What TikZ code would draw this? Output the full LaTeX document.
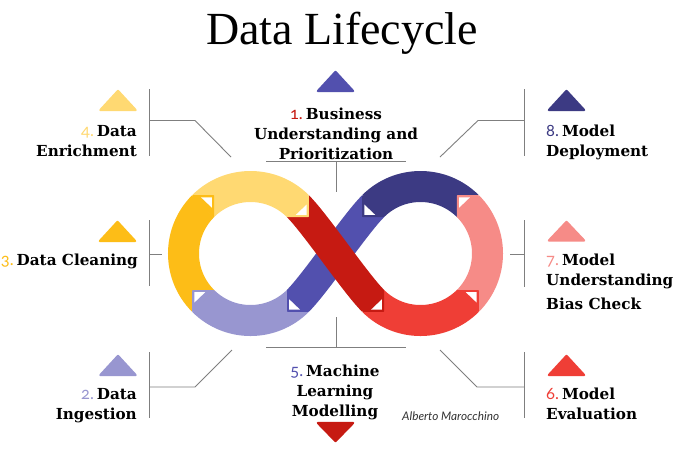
\documentclass[tikz,border=0pt]{standalone}
\usepackage{fontspec}
\setmainfont{DejaVu Serif}
\newfontfamily\titlefont{Liberation Serif}
\newfontfamily\numfont[Numbers=OldStyle]{Lato}
\newfontfamily\authorfont{Lato}
\definecolor{cLY}{HTML}{FFD972}
\definecolor{cOR}{HTML}{FDBD17}
\definecolor{cLA}{HTML}{9896D0}
\definecolor{cBL}{HTML}{5250AE}
\definecolor{cDR}{HTML}{C61A12}
\definecolor{cRE}{HTML}{EF3E36}
\definecolor{cSA}{HTML}{F68B87}
\definecolor{cNA}{HTML}{3C3A83}
\definecolor{cLN}{HTML}{7F7F7F}
\newcommand{\nm}[2]{{\fontsize{16.5}{20}\numfont\mdseries\color{#1}#2}\hspace{3pt}}
\newcommand{\tabm}[5]{%
  \filldraw[#1,line width=1.2pt,line join=round] ({#2+#4*0.6},{#3+#5*0.6}) -- ({#2+#4*21.3},{#3+#5*0.6}) -- ({#2+#4*0.6},{#3+#5*21.3}) -- cycle;
  \fill[white] ({#2+#4*2.2},{#3+#5*2.2}) -- ({#2+#4*13},{#3+#5*2.2}) -- ({#2+#4*2.2},{#3+#5*12.5}) -- cycle;}
\tikzset{
  x=1pt,y=-1pt,
  ring/.style={line width=31pt,line cap=butt},
  leader/.style={draw=cLN,line width=0.9pt},
  tri/.style={line width=2.4pt,line join=round},
  lab/.style={font=\fontsize{15.2}{20}\selectfont\bfseries,inner sep=0pt,text=black},
}
\newcommand{\tria}[4]{\filldraw[tri,#1] ({#2-17.5},{#4}) -- (#2,{#3}) -- ({#2+17.5},{#4}) -- cycle;}
\begin{document}
\begin{tikzpicture}
\useasboundingbox (0,0) rectangle (680,467);
\fill[white] (0,0) rectangle (680,467);
% title
\node[inner sep=0pt,font=\fontsize{46}{50}\titlefont] (title) at (342,33) {Data Lifecycle};
% rings
\draw[ring,cLA] (250.5,253.5) ++(45:67) arc[start angle=45,end angle=135,radius=67];
\draw[ring,cOR] (250.5,253.5) ++(135:67) arc[start angle=135,end angle=225,radius=67];
\draw[ring,cLY] (250.5,253.5) ++(225:67) arc[start angle=225,end angle=315,radius=67];
\draw[ring,cNA] (420.5,253.5) ++(225:67) arc[start angle=225,end angle=315,radius=67];
\draw[ring,cSA] (420.5,253.5) ++(315:67) arc[start angle=315,end angle=405,radius=67];
\draw[ring,cRE] (420.5,253.5) ++(45:67) arc[start angle=45,end angle=135,radius=67];
% crossing bands
\draw[ring,cBL] (297.9,300.8) .. controls (315,284) and (356,223) .. (373.1,206.2);
\draw[ring,cDR] (297.9,206.2) .. controls (315,223) and (356,284) .. (373.1,300.8);
% tabs
\tabm{cOR}{214.1}{195.2}{-1}{1}
\tabm{cLY}{308.8}{217.1}{-1}{-1}
\tabm{cLA}{192.2}{290}{1}{1}
\tabm{cBL}{287}{311.8}{1}{-1}
\tabm{cNA}{362.2}{217.1}{1}{-1}
\tabm{cSA}{456.9}{195.2}{1}{1}
\tabm{cRE}{478.8}{290}{-1}{1}
\tabm{cDR}{384.1}{311.8}{-1}{-1}
% triangles
\tria{cBL}{335.5}{72}{91}
\tria{cLY}{118}{91}{110}
\tria{cOR}{117.5}{222}{241}
\tria{cLA}{118}{356}{375}
\tria{cNA}{566.5}{91}{110}
\tria{cSA}{566.5}{222}{240.5}
\tria{cRE}{566.5}{356}{375}
\tria{cDR}{335.5}{441}{423}
% labels
\node[lab,align=center,anchor=base] (l1) at (336,159) {\nm{cDR}{1.}Business\\Understanding and\\Prioritization};
\node[lab,align=right,anchor=base east] (l4) at (137,156) {\nm{cLY}{4.}Data\\Enrichment};
\node[lab,anchor=base east] (l3) at (138,265) {\nm{cOR}{3.}Data Cleaning};
\node[lab,align=right,anchor=base east] (l2) at (137,419) {\nm{cLA}{2.}Data\\Ingestion};
\node[lab,align=center,anchor=base] (l5) at (335,416) {\nm{cBL}{5.}Machine\\Learning\\Modelling};
\node[lab,align=left,anchor=base west] (l8) at (546,156) {\nm{cNA}{8.}Model\\Deployment};
\node[lab,align=left,anchor=base west] (l7) at (546,309) {\nm{cSA}{7.}Model\\Understanding\\[4pt]Bias Check};
\node[lab,align=left,anchor=base west] (l6) at (546,419) {\nm{cRE}{6.}Model\\Evaluation};
\node[inner sep=0pt,anchor=base west,font=\fontsize{11.8}{13}\authorfont\itshape,text=black!80] (auth) at (402,420) {Alberto Marocchino};
% leaders
\coordinate (tlA) at (149,89); \coordinate (tlB) at (149,156); \coordinate (tlC) at (149,120.5); \coordinate (tlD) at (195,120.5); \coordinate (tlE) at (231,157);
\draw[leader] (tlA) -- (tlB); \draw[leader] (tlC) -- (tlD) -- (tlE);
\coordinate (mlA) at (149,220); \coordinate (mlB) at (149,286); \coordinate (mlC) at (149,254); \coordinate (mlD) at (162,254);
\draw[leader] (mlA) -- (mlB); \draw[leader] (mlC) -- (mlD);
\coordinate (blA) at (149,352); \coordinate (blB) at (149,418); \coordinate (blC) at (149,387); \coordinate (blD) at (195,387); \coordinate (blE) at (232,350);
\draw[leader] (blA) -- (blB); \draw[leader] (blC) -- (blD) -- (blE);
\coordinate (trA) at (524,89); \coordinate (trB) at (524,156); \coordinate (trC) at (524,120.5); \coordinate (trD) at (478,120.5); \coordinate (trE) at (440,157);
\draw[leader] (trA) -- (trB); \draw[leader] (trC) -- (trD) -- (trE);
\coordinate (mrA) at (524,220); \coordinate (mrB) at (524,287); \coordinate (mrC) at (524,254); \coordinate (mrD) at (510,254);
\draw[leader] (mrA) -- (mrB); \draw[leader] (mrC) -- (mrD);
\coordinate (brA) at (524,352); \coordinate (brB) at (524,418); \coordinate (brC) at (524,387); \coordinate (brD) at (477,387); \coordinate (brE) at (440,350);
\draw[leader] (brA) -- (brB); \draw[leader] (brC) -- (brD) -- (brE);
\coordinate (tcA) at (266,161); \coordinate (tcB) at (406,161); \coordinate (tcC) at (336,161); \coordinate (tcD) at (336,192);
\draw[leader] (tcA) -- (tcB); \draw[leader] (tcC) -- (tcD);
\coordinate (bcA) at (266,347); \coordinate (bcB) at (406,347); \coordinate (bcC) at (336,347); \coordinate (bcD) at (336,317);
\draw[leader] (bcA) -- (bcB); \draw[leader] (bcC) -- (bcD);
\end{tikzpicture}
\end{document}
